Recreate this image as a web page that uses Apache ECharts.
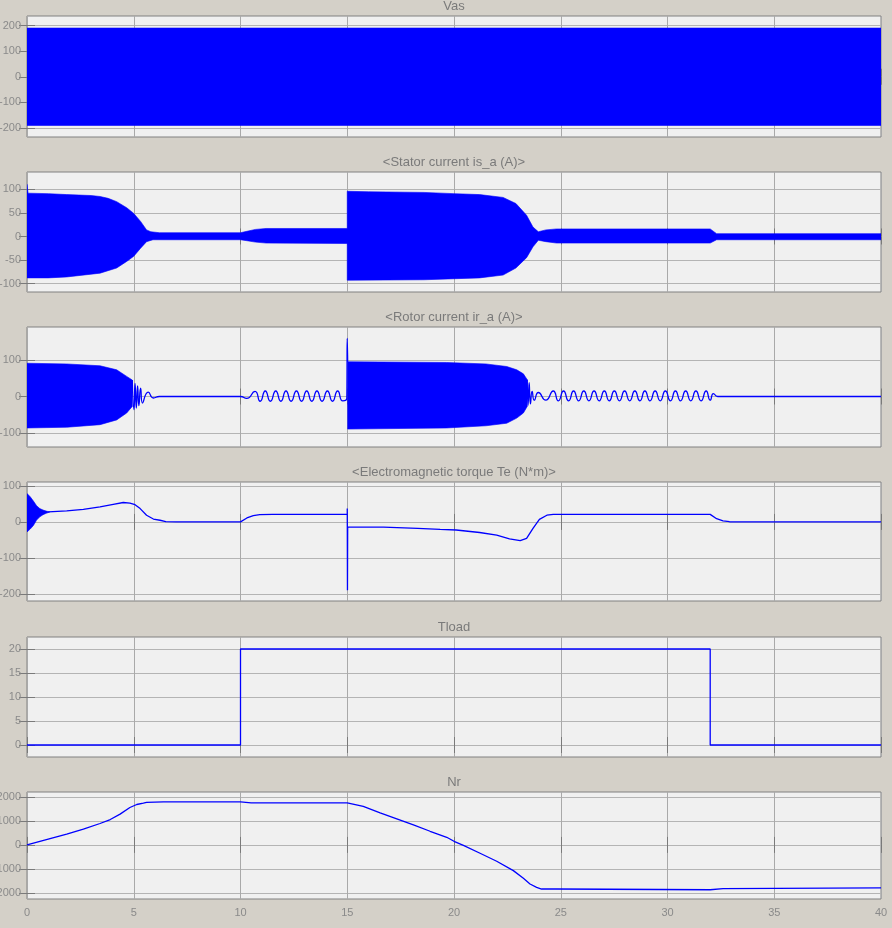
<!DOCTYPE html>
<html>
<head>
<meta charset="utf-8">
<script src="https://cdn.jsdelivr.net/npm/echarts@6/dist/echarts.min.js"></script>
<style>
html,body{margin:0;padding:0;background:#d4d0c8;}
#chart{width:892px;height:928px;}
</style>
</head>
<body>
<div id="chart"></div>
<script>
// ---------- DATA ----------
const panelTitles = ['Vas', '<Stator current is_a (A)>', '<Rotor current ir_a (A)>',
  '<Electromagnetic torque Te (N*m)>', 'Tload', 'Nr'];
const xTickLabels = [0, 5, 10, 15, 20, 25, 30, 35, 40];

// y ticks per panel
const vasTicks = [-200, -100, 0, 100, 200];
const statorTicks = [-100, -50, 0, 50, 100];
const rotorTicks = [-100, 0, 100];
const torqueTicks = [-200, -100, 0, 100];
const tloadTicks = [0, 5, 10, 15, 20];
const nrTicks = [-2000, -1000, 0, 1000, 2000];
// y ranges per panel [min, max]
const vasRange = [-235, 237];
const statorRange = [-118, 137];
const rotorRange = [-138, 190];
const torqueRange = [-220, 111];
const tloadRange = [-2.5, 22.5];
const nrRange = [-2250, 2200];

// Vas: 50 Hz supply, drawn as its envelope [t, value]
const vasUpper = [[0, 190], [40, 190]];
const vasLower = [[0, -190], [40, -190]];

// Stator current envelope [t, value]
const statorUpper = [[0, 111], [0.05, 92], [1, 91], [1.86, 89], [3, 87], [3.42, 85], [3.8, 81], [4.2, 74], [4.67, 61],
  [5.0, 49], [5.32, 32], [5.6, 14], [5.8, 10], [6.2, 8], [10, 8], [10.3, 11], [10.7, 15], [11.2, 17], [15, 17],
  [15, 96], [16, 95], [18.6, 93.6], [20, 91], [21.2, 89], [22.3, 83], [22.9, 70], [23.4, 45], [23.7, 20],
  [23.95, 10], [24.3, 14], [24.8, 16], [32, 16], [32.3, 6], [40, 6]];
const statorLower = [[0, -88], [1, -88], [1.86, -86], [3.42, -78], [4.2, -67], [4.67, -53], [5.0, -42], [5.32, -25],
  [5.6, -11], [5.9, -7], [10, -7], [10.3, -9], [10.7, -12], [11.2, -14], [15, -15],
  [15, -93], [18.6, -92], [21.2, -88], [22.3, -82], [22.9, -67], [23.4, -45], [23.7, -22], [23.95, -8],
  [24.3, -11], [24.8, -14], [32, -14], [32.3, -7], [40, -7]];

// Rotor current envelopes [t, value]
const rotorUpper1 = [[0, 91], [1.86, 89], [3.42, 84], [4.2, 73], [4.67, 55], [4.93, 45]];
const rotorLower1 = [[0, -86], [1.86, -84], [3.42, -77], [4.2, -64], [4.67, -45], [4.93, -27]];
const rotorUpper2 = [[15.02, 95], [19.65, 93], [21.5, 89], [22.47, 82], [22.94, 73], [23.25, 62], [23.43, 46]];
const rotorLower2 = [[15.02, -89], [19.65, -86], [21.5, -80], [22.47, -73], [22.94, -59], [23.25, -45], [23.43, -27]];
// Rotor current traced waveform (extrema) [t, value]
const rotorLineA = [[4.93, 45], [4.95, 45], [5.01, -36], [5.06, 36], [5.12, -32], [5.18, 29], [5.24, -25],
  [5.32, 23], [5.41, -18], [5.68, 12], [5.92, -4], [6.2, 0], [10, 0],
  [10.29, -5], [10.68, 14], [10.92, -13], [11.16, 15], [11.40, -13], [11.65, 15], [11.89, -13], [12.13, 15],
  [12.37, -13], [12.62, 15], [12.86, -13], [13.10, 15], [13.34, -13], [13.58, 15], [13.82, -13], [14.07, 15],
  [14.31, -13], [14.55, 15], [14.79, -12], [14.98, -5], [15, 159], [15.02, 95]];
const rotorLineB = [[23.43, 46], [23.47, -24], [23.52, 38], [23.58, -20], [23.66, 14], [23.76, -10], [23.95, 11],
  [24.30, -10], [24.65, 15], [24.89, -12], [25.13, 15], [25.37, -12], [25.60, 15], [25.84, -12], [26.08, 15],
  [26.32, -12], [26.56, 15], [26.80, -12], [27.04, 15], [27.27, -12], [27.51, 15], [27.75, -12], [27.99, 15],
  [28.23, -12], [28.47, 15], [28.71, -12], [28.94, 15], [29.18, -12], [29.42, 15], [29.66, -12], [29.90, 15],
  [30.14, -12], [30.37, 15], [30.61, -12], [30.85, 15], [31.09, -12], [31.33, 15], [31.57, -12], [31.81, 15],
  [32.0, -10], [32.15, 8], [32.35, 0], [40, 0]];

// Electromagnetic torque
const torqueUpper = [[0, 79], [0.15, 70], [0.3, 58], [0.45, 45], [0.6, 37], [0.75, 33], [0.9, 30], [1.05, 28]];
const torqueLower = [[0, -28], [0.15, -20], [0.3, -10], [0.45, 5], [0.6, 14], [0.75, 20], [0.9, 24], [1.05, 27]];
const torqueLine = [[1.0, 28], [1.86, 30.5], [2.64, 35], [3.42, 41.7], [4.04, 49], [4.51, 54], [4.82, 52.5],
  [5.06, 48], [5.3, 37], [5.6, 18.6], [5.92, 8], [6.23, 4.6], [6.5, 1], [7, 0], [10, 0], [10.3, 11], [10.6, 17.6],
  [10.9, 20.5], [11.5, 21], [15, 21], [15, 37], [15.01, -190], [15.02, -14], [16.7, -14.5], [18.3, -18],
  [19.35, -21], [20.1, -22.5], [21.2, -29.5], [22, -37], [22.6, -47], [23.1, -52], [23.4, -46], [23.7, -18],
  [24.0, 7], [24.35, 18.6], [24.65, 21], [32, 21], [32.3, 9], [32.6, 3], [32.9, 0.5], [33.3, 0], [40, 0]];

// Load torque
const tloadT = [0, 10, 10, 32, 32, 40];
const tloadV = [0, 0, 20, 20, 0, 0];

// Rotor speed Nr
const nrT = [0, 1.08, 1.86, 2.64, 3.42, 3.9, 4.36, 4.82, 5.14, 5.45, 5.6, 6.39, 10, 10.5, 15, 15.75, 16.54, 17.32,
  18.1, 18.88, 19.66, 20.0, 20.44, 21.22, 22, 22.78, 23.25, 23.56, 23.87, 24.1, 24.75, 24.78, 32, 32.05, 32.6, 32.65, 40];
const nrV = [0, 265, 445, 655, 890, 1055, 1280, 1555, 1680, 1735, 1765, 1790, 1790, 1750, 1750, 1600, 1333, 1083,
  833, 567, 317, 150, -20, -347, -680, -1070, -1390, -1625, -1765, -1835, -1835, -1870, -1865, -1820, -1820, -1790, -1790];

// ---------- LAYOUT ----------
const FONT = 'Liberation Sans, Arial, sans-serif';
const panels = [
  {top: 16, height: 121}, {top: 172, height: 120}, {top: 327, height: 120},
  {top: 482, height: 119}, {top: 637, height: 120}, {top: 792, height: 107}
];
const ticksArr = [vasTicks, statorTicks, rotorTicks, torqueTicks, tloadTicks, nrTicks];
const rangeArr = [vasRange, statorRange, rotorRange, torqueRange, tloadRange, nrRange];
const BLUE = '#0000ff';

const grids = panels.map(p => ({left: 27, right: 11, top: p.top, height: p.height, show: true,
  containLabel: false, outerBoundsMode: 'none',
  backgroundColor: '#f0f0f0', borderColor: '#808080', borderWidth: 1}));

const xAxes = [], yAxes = [];
panels.forEach((p, i) => {
  xAxes.push({gridIndex: i, type: 'value', min: 0, max: 40, interval: 5, position: 'bottom',
    axisLine: {show: false},
    axisTick: {show: true, inside: true, length: 8, lineStyle: {color: '#7a7a7a'}},
    axisLabel: {show: i === 5, color: '#8a8a8a', fontSize: 11, fontFamily: FONT, margin: 8,
      formatter: v => xTickLabels.indexOf(v) >= 0 ? String(v) : ''},
    splitLine: {show: true, lineStyle: {color: '#a9a9a9', width: 1}}});
});
panels.forEach((p, i) => {
  xAxes.push({gridIndex: i, type: 'value', min: 0, max: 40, interval: 5, position: 'top',
    axisLine: {show: false},
    axisTick: {show: true, inside: true, length: 8, lineStyle: {color: '#7a7a7a'}},
    axisLabel: {show: false}, splitLine: {show: false}});
});
panels.forEach((p, i) => {
  yAxes.push({gridIndex: i, type: 'value', min: rangeArr[i][0], max: rangeArr[i][1], position: 'left',
    axisLine: {show: false},
    axisTick: {show: true, inside: true, length: 8, customValues: ticksArr[i], lineStyle: {color: '#7a7a7a'}},
    axisLabel: {show: true, customValues: ticksArr[i], color: '#8a8a8a', fontSize: 11, fontFamily: FONT,
      margin: 6, formatter: v => String(v)},
    splitLine: {show: true, lineStyle: {color: '#b4b4b4', width: 1}}});
});
panels.forEach((p, i) => {
  yAxes.push({gridIndex: i, type: 'value', min: rangeArr[i][0], max: rangeArr[i][1], position: 'right',
    axisLine: {show: false},
    axisTick: {show: true, inside: true, length: 8, customValues: ticksArr[i], lineStyle: {color: '#7a7a7a'}},
    axisLabel: {show: false}, splitLine: {show: false}});
});

function band(i, upper, lower) {
  return {type: 'custom', xAxisIndex: i, yAxisIndex: i, data: [[upper[0][0], upper[0][1]]], clip: true,
    silent: true, z: 3,
    renderItem: function (params, api) {
      const pts = upper.map(p => api.coord(p)).concat(lower.slice().reverse().map(p => api.coord(p)));
      return {type: 'polygon', shape: {points: pts}, style: {fill: BLUE, stroke: BLUE, lineWidth: 0.6}};
    }};
}
function line(i, data, smooth) {
  return {type: 'line', xAxisIndex: i, yAxisIndex: i, data: data, showSymbol: false, symbol: 'none',
    smooth: smooth || false, lineStyle: {color: BLUE, width: 1.3}, z: 4, silent: true};
}

const series = [
  band(0, vasUpper, vasLower),
  band(1, statorUpper, statorLower),
  band(2, rotorUpper1, rotorLower1),
  band(2, rotorUpper2, rotorLower2),
  line(2, rotorLineA, 0.6),
  line(2, rotorLineB, 0.6),
  band(3, torqueUpper, torqueLower),
  line(3, torqueLine),
  line(4, tloadT.map((t, k) => [t, tloadV[k]])),
  line(5, nrT.map((t, k) => [t, nrV[k]]))
];

const graphics = panels.map((p, i) => ({type: 'text', x: 454, y: p.top - 10,
  style: {text: panelTitles[i], fill: '#7a7a7a', font: '13px ' + FONT, textAlign: 'center', textVerticalAlign: 'middle'}}));

const chart = echarts.init(document.getElementById('chart'), null, {renderer: 'canvas'});
chart.setOption({
  backgroundColor: '#d4d0c8',
  animation: false,
  grid: grids,
  xAxis: xAxes,
  yAxis: yAxes,
  series: series,
  graphic: graphics
});
</script>
</body>
</html>
